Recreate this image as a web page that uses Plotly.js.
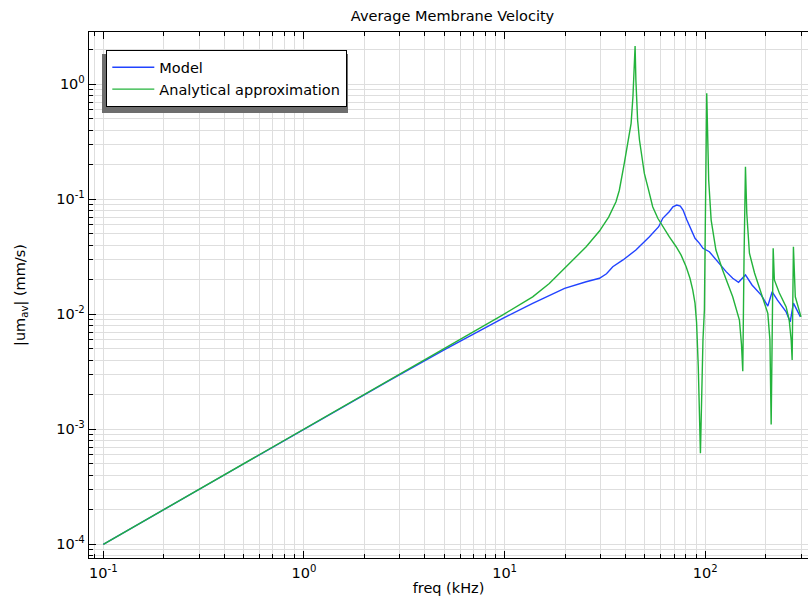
<!DOCTYPE html>
<html>
<head>
<meta charset="utf-8">
<script src="https://cdn.plot.ly/plotly-3.0.1.min.js"></script>
<style>html,body{margin:0;padding:0;background:#fff;}#chart{width:808px;height:599px;}</style>
</head>
<body>
<div id="chart"></div>
<script>
// Frequencies (kHz) and |um_av| (mm/s)
const modelFreq = [0.1, 1, 2.67, 5.1, 7.49, 9.79, 13.8, 16.7, 19.9, 25.5, 29.7, 32.2, 34.6, 38.9, 45.1, 52.7, 58.6, 61.4, 66.1, 69.0, 72.1, 75.1, 77.5, 81.0, 84.9, 88.9, 93.6, 97.4, 104.8, 113, 127, 137, 146.5, 158.6, 171, 190, 205, 215.5, 229, 253, 265, 275, 298];
const modelVel = [1e-4, 1e-3, 2.67e-3, 5.0e-3, 7.2e-3, 9.2e-3, 0.01247, 0.0147, 0.01683, 0.0192, 0.0206, 0.0225, 0.0259, 0.0297, 0.0362, 0.0473, 0.0578, 0.0684, 0.078, 0.0862, 0.0892, 0.0875, 0.0807, 0.066, 0.054, 0.0458, 0.0414, 0.0375, 0.035, 0.0297, 0.0235, 0.0206, 0.019, 0.022, 0.018, 0.0147, 0.0118, 0.0157, 0.0133, 0.0105, 0.0086, 0.0125, 0.0095];

const analFreq = [0.1, 1, 2.67, 5, 9.8, 13.8, 16.7, 19.9, 25.5, 29.7, 33.0, 35.9, 37.3, 39.5, 41.1, 42.7, 43.6, 44.2, 44.7, 45.1, 46.0, 47.0, 48.4, 49.7, 51.9, 54.7, 58.0, 61.4, 66.1, 71.6, 75.8, 80.3, 83.9, 86.6, 88.9, 90.5, 92.3, 94.6, 97.4, 99.0, 100.3, 101.7, 104, 107, 113, 122, 137, 148, 151.5, 153.8, 156, 158.6, 161, 166, 176, 190, 205, 210, 213, 218, 221, 234, 253, 262, 268, 271, 275, 281, 300];
const analVel = [1e-4, 1e-3, 2.68e-3, 5.0e-3, 9.9e-3, 0.0142, 0.0185, 0.0251, 0.0387, 0.053, 0.07, 0.0953, 0.12, 0.206, 0.307, 0.458, 0.78, 1.42, 2.15, 1.09, 0.49, 0.328, 0.22, 0.168, 0.125, 0.0862, 0.0684, 0.0578, 0.0473, 0.0387, 0.0327, 0.0259, 0.0206, 0.0163, 0.0125, 0.0085, 0.0035, 6.2e-4, 6e-3, 0.0109, 0.08, 0.835, 0.147, 0.066, 0.0362, 0.0243, 0.0142, 0.0089, 0.0055, 3.2e-3, 0.03, 0.192, 0.076, 0.034, 0.0229, 0.0153, 0.0102, 0.006, 1.1e-3, 0.0375, 0.0199, 0.0153, 0.0116, 0.0089, 0.006, 4e-3, 0.0387, 0.0142, 0.0095];

const xTickVals = [0.1, 1, 10, 100];
const xTickText = ['10<sup>-1</sup>', '10<sup>0</sup>', '10<sup>1</sup>', '10<sup>2</sup>'];
const yTickVals = [1e-4, 1e-3, 1e-2, 1e-1, 1];
const yTickText = ['10<sup>-4</sup>', '10<sup>-3</sup>', '10<sup>-2</sup>', '10<sup>-1</sup>', '10<sup>0</sup>'];

function minorVals(lo, hi) {
  const out = [];
  for (let e = lo; e <= hi; e++) for (let m = 2; m <= 9; m++) out.push(m * Math.pow(10, e));
  return out;
}

const FAM = 'DejaVu Sans, sans-serif';
const FS = 14.5;
const gridc = '#dedede';

const data = [
  {x: modelFreq, y: modelVel, type: 'scatter', mode: 'lines', name: 'Model',
   line: {color: '#2143ff', width: 1.4}},
  {x: analFreq, y: analVel, type: 'scatter', mode: 'lines', name: 'Analytical approximation',
   line: {color: '#23b33b', width: 1.4}}
];

const layout = {
  width: 808, height: 599,
  margin: {l: 89, r: 0, t: 32, b: 41},
  paper_bgcolor: '#fff', plot_bgcolor: '#fff',
  font: {family: FAM, size: FS, color: '#000'},
  title: {text: 'Average Membrane Velocity', font: {family: FAM, size: FS, color: '#000'},
          x: 0.5 + 4/719, xref: 'paper', y: 1 - 16/599, yref: 'container', yanchor: 'middle'},
  xaxis: {
    type: 'log', range: [-1.0713, 2.512], autorange: false,
    tickmode: 'array', tickvals: xTickVals, ticktext: xTickText,
    ticks: 'inside', ticklen: 7, tickwidth: 1, tickcolor: '#000',
    showline: true, linecolor: '#000', linewidth: 1.3, mirror: 'ticks',
    showgrid: true, gridcolor: gridc, gridwidth: 1, zeroline: false,
    minor: {tickmode: 'array', tickvals: minorVals(-2, 2), ticks: 'inside', ticklen: 4, tickcolor: '#000',
            showgrid: true, gridcolor: gridc, gridwidth: 1},
    tickfont: {family: FAM, size: FS, color: '#000'},
    ticklabelstandoff: 1,
    title: {text: 'freq (kHz)', font: {family: FAM, size: FS, color: '#000'}, standoff: 3},
    automargin: false
  },
  yaxis: {
    type: 'log', range: [-4.119, 0.455], autorange: false,
    tickmode: 'array', tickvals: yTickVals, ticktext: yTickText,
    ticks: 'inside', ticklen: 7, tickwidth: 1, tickcolor: '#000',
    showline: true, linecolor: '#000', linewidth: 1.3, mirror: false,
    showgrid: true, gridcolor: gridc, gridwidth: 1, zeroline: false,
    minor: {tickmode: 'array', tickvals: minorVals(-5, 1), ticks: 'inside', ticklen: 4, tickcolor: '#000',
            showgrid: true, gridcolor: gridc, gridwidth: 1},
    tickfont: {family: FAM, size: FS, color: '#000'},
    title: {text: '|um<sub>av</sub>| (mm/s)', font: {family: FAM, size: FS, color: '#000'}, standoff: 27},
    automargin: false
  },
  showlegend: true,
  legend: {
    x: (106 - 89) / 719, y: (558 - 50) / 526, xanchor: 'left', yanchor: 'top',
    bgcolor: '#fff', bordercolor: '#000', borderwidth: 1.3,
    font: {family: FAM, size: FS, color: '#000'},
    itemwidth: 42, tracegroupgap: 0
  },
  shapes: [
    {type: 'rect', xref: 'paper', yref: 'paper',
     x0: (102 - 89) / 719, x1: (348 - 89) / 719, y0: (558 - 113) / 526, y1: (558 - 54) / 526,
     fillcolor: '#6e6e6e', line: {width: 0}, layer: 'above'}
  ]
};

Plotly.newPlot('chart', data, layout, {displayModeBar: false, staticPlot: true});
</script>
</body>
</html>
